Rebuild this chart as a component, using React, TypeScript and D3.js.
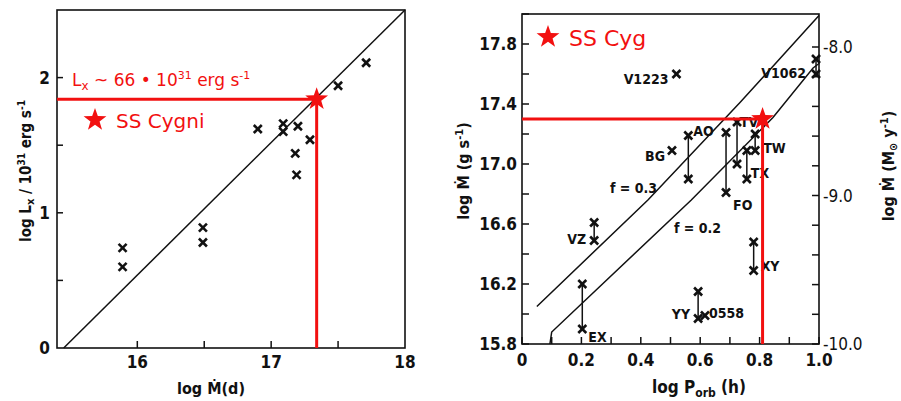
import React from 'react';
import * as d3 from 'd3';

// Left panel: X-ray luminosity vs accretion rate
const lxMdot = [15.89, 15.89, 16.49, 16.49, 16.9, 17.09, 17.09, 17.2, 17.29, 17.18, 17.19, 17.5, 17.71];
const lxValues = [0.74, 0.6, 0.89, 0.78, 1.62, 1.66, 1.6, 1.64, 1.54, 1.44, 1.28, 1.94, 2.11];
const lxLine = [[15.45, 0], [18, 2.5]];
const ssCygLeft = { mdot: 17.34, lx: 1.84 };

// Right panel: accretion rate vs orbital period
const sysNames = ['V1223', 'V1062', 'AO', 'BG', 'FO', 'TV', 'TX', 'TW', 'VZ', 'EX', 'YY', '0558', 'XY'];
const sysPorb = [0.52, 0.99, 0.56, 0.505, 0.687, 0.724, 0.757, 0.785, 0.243, 0.203, 0.593, 0.616, 0.78];
const sysHigh = [17.6, 17.7, 17.19, 17.09, 17.21, 17.28, 17.09, 17.2, 16.61, 16.2, 16.15, 15.99, 16.48];
const sysLow = [null, 17.6, 16.9, null, 16.81, 17.0, 16.9, 17.09, 16.49, 15.9, 15.97, null, 16.29];
const lineF03 = [[0.05, 16.05], [0.424, 16.76], [0.734, 17.41], [1.0, 17.99]];
const lineF02 = [[0.094, 15.8], [0.1, 15.88], [0.57, 16.76], [0.845, 17.31], [0.98, 17.64], [1.0, 17.67]];
const ssCygRight = { porb: 0.81, mdot: 17.3 };

const xTicksRight = [0, 0.1, 0.2, 0.3, 0.4, 0.5, 0.6, 0.7, 0.8, 0.9, 1.0];
const yTicksRight = d3.range(15.8, 18.01, 0.2);
const yTicksRight2 = d3.range(-10, -7.99, 0.2);

// label placement (px offsets from marker), kept apart from the data
const labelPos: Record<string, [number, number, 'start' | 'end', 'high' | 'low']> = {
  V1223: [-8, 5, 'end', 'high'],
  V1062: [-10, 14, 'end', 'high'],
  AO: [5, -5, 'start', 'high'],
  BG: [-7, 5, 'end', 'high'],
  FO: [7, 12, 'start', 'low'],
  TV: [3, 0, 'start', 'high'],
  TX: [4, -6, 'start', 'low'],
  TW: [8, -3, 'start', 'low'],
  VZ: [-8, -2, 'end', 'low'],
  EX: [6, 8, 'start', 'low'],
  YY: [-8, -5, 'end', 'low'],
  '0558': [4, -3, 'start', 'high'],
  XY: [7, -5, 'start', 'low'],
};

const RED = '#f21010';
const LBL = "'DejaVu Sans Condensed', 'DejaVu Sans', sans-serif";
const HAND = "'DejaVu Sans', sans-serif";

const Cross = ({ x, y }: { x: number; y: number }) => (
  <g stroke="#111" strokeWidth={2.6}>
    <line x1={x - 4} y1={y - 4} x2={x + 4} y2={y + 4} />
    <line x1={x - 4} y1={y + 4} x2={x + 4} y2={y - 4} />
  </g>
);

const starPath = (cx: number, cy: number, r: number) => {
  const pts: [number, number][] = [];
  for (let i = 0; i < 10; i++) {
    const rr = i % 2 === 0 ? r : r * 0.4;
    const a = -Math.PI / 2 + (i * Math.PI) / 5;
    pts.push([cx + rr * Math.cos(a), cy + rr * Math.sin(a)]);
  }
  return 'M' + pts.map((p) => p.join(',')).join('L') + 'Z';
};

export default function App() {
  // left panel scales
  const xL = d3.scaleLinear().domain([15.4, 18]).range([57, 405]);
  const yL = d3.scaleLinear().domain([0, 2.5]).range([348, 10]);
  // right panel scales
  const xR = d3.scaleLinear().domain([0, 1]).range([522, 819]);
  const yR = d3.scaleLinear().domain([15.8, 18]).range([344, 14]);
  const yR2 = d3.scaleLinear().domain([-10, -8]).range([344, 47]);

  const lineL = d3.line<number[]>().x((d) => xL(d[0])).y((d) => yL(d[1]));
  const lineR = d3.line<number[]>().x((d) => xR(d[0])).y((d) => yR(d[1]));

  const sx = xL(ssCygLeft.mdot);
  const sy = yL(ssCygLeft.lx);
  const rx = xR(ssCygRight.porb);
  const ry = yR(ssCygRight.mdot);

  return (
    <svg width={901} height={401} style={{ position: 'absolute', left: 0, top: 0, background: '#fff' }}>
      <rect width={901} height={401} fill="#fff" />

      {/* ---------- left panel ---------- */}
      <rect x={57} y={10} width={348} height={338} fill="none" stroke="#111" strokeWidth={1.6} />
      <path d={lineL(lxLine) || ''} fill="none" stroke="#111" strokeWidth={1.5} />
      {[16, 16.5, 17, 17.5].map((t) => (
        <line key={t} x1={xL(t)} x2={xL(t)} y1={348} y2={341} stroke="#111" strokeWidth={1.5} />
      ))}
      {[0.5, 1, 1.5, 2].map((t) => (
        <line key={t} x1={57} x2={63} y1={yL(t)} y2={yL(t)} stroke="#111" strokeWidth={1.5} />
      ))}
      {[16, 17, 18].map((t) => (
        <text key={t} x={xL(t)} y={368} textAnchor="middle" fontFamily={LBL} fontWeight="bold" fontSize={17} fill="#111">
          {t}
        </text>
      ))}
      {[0, 1, 2].map((t) => (
        <text key={t} x={50} y={yL(t) + 6} textAnchor="end" fontFamily={LBL} fontWeight="bold" fontSize={17} fill="#111">
          {t}
        </text>
      ))}
      <text x={211} y={394} textAnchor="middle" fontFamily={LBL} fontWeight="bold" fontSize={16} fill="#111">
        log Ṁ(d)
      </text>
      <text transform="translate(31,171) rotate(-90)" textAnchor="middle" fontFamily={LBL} fontWeight="bold" fontSize={15} fill="#111">
        log L<tspan fontSize={11} dy={3}>x</tspan>
        <tspan dy={-3}> / 10</tspan>
        <tspan fontSize={10} dy={-6}>31</tspan>
        <tspan dy={6}> erg s</tspan>
        <tspan fontSize={10} dy={-6}>-1</tspan>
      </text>
      {lxMdot.map((m, i) => (
        <Cross key={i} x={xL(m)} y={yL(lxValues[i])} />
      ))}
      <line x1={57} x2={sx} y1={sy} y2={sy} stroke={RED} strokeWidth={3} />
      <line x1={sx} x2={sx} y1={sy} y2={348} stroke={RED} strokeWidth={3} />
      <path d={starPath(sx, sy, 12)} fill={RED} />
      <text x={72} y={86} fontFamily={HAND} fontSize={17} fill={RED}>
        L<tspan fontSize={12} dy={4}>x</tspan>
        <tspan dy={-4}> ~ 66 • 10</tspan>
        <tspan fontSize={11} dy={-7}>31</tspan>
        <tspan dy={7}> erg s</tspan>
        <tspan fontSize={11} dy={-7}>-1</tspan>
      </text>
      <path d={starPath(95, 120, 12)} fill={RED} />
      <text x={116} y={128} fontFamily={HAND} fontSize={20} fill={RED}>
        SS Cygni
      </text>

      {/* ---------- right panel ---------- */}
      <rect x={522} y={14} width={297} height={330} fill="none" stroke="#111" strokeWidth={1.6} />
      {xTicksRight.map((t) => (
        <line key={t} x1={xR(t)} x2={xR(t)} y1={344} y2={337} stroke="#111" strokeWidth={1.5} />
      ))}
      {yTicksRight.map((t) => (
        <line key={t} x1={522} x2={529} y1={yR(t)} y2={yR(t)} stroke="#111" strokeWidth={1.5} />
      ))}
      {yTicksRight2.map((t) => (
        <line key={t} x1={812} x2={819} y1={yR2(t)} y2={yR2(t)} stroke="#111" strokeWidth={1.5} />
      ))}
      {[0, 0.2, 0.4, 0.6, 0.8, 1.0].map((t) => (
        <text key={t} x={xR(t)} y={366} textAnchor="middle" fontFamily={LBL} fontWeight="bold" fontSize={17} fill="#111">
          {t === 0 ? '0' : t.toFixed(1)}
        </text>
      ))}
      {[15.8, 16.2, 16.6, 17.0, 17.4, 17.8].map((t) => (
        <text key={t} x={517} y={yR(t) + 6} textAnchor="end" fontFamily={LBL} fontWeight="bold" fontSize={17} fill="#111">
          {t.toFixed(1)}
        </text>
      ))}
      {[-8, -9, -10].map((t) => (
        <text key={t} x={823} y={yR2(t) + 6} fontFamily={LBL} fontSize={17} fill="#111">
          {'-' + Math.abs(t).toFixed(1)}
        </text>
      ))}
      <text x={699} y={393} textAnchor="middle" fontFamily={LBL} fontWeight="bold" fontSize={17} fill="#111">
        log P<tspan fontSize={12} dy={4}>orb</tspan>
        <tspan dy={-4}> (h)</tspan>
      </text>
      <text transform="translate(469,171) rotate(-90)" textAnchor="middle" fontFamily={LBL} fontWeight="bold" fontSize={16} fill="#111">
        log Ṁ (g s<tspan fontSize={11} dy={-6}>-1</tspan>
        <tspan dy={6}>)</tspan>
      </text>
      <text transform="translate(894,166) rotate(-90)" textAnchor="middle" fontFamily={LBL} fontWeight="bold" fontSize={16} fill="#111">
        log Ṁ (M<tspan fontSize={11} dy={3}>⊙</tspan>
        <tspan dy={-3}> y</tspan>
        <tspan fontSize={11} dy={-6}>-1</tspan>
        <tspan dy={6}>)</tspan>
      </text>

      <path d={lineR(lineF03) || ''} fill="none" stroke="#111" strokeWidth={1.5} />
      <path d={lineR(lineF02) || ''} fill="none" stroke="#111" strokeWidth={1.5} />
      <text x={610} y={193} fontFamily={LBL} fontWeight="bold" fontSize={14} fill="#111">
        f = 0.3
      </text>
      <text x={674} y={233} fontFamily={LBL} fontWeight="bold" fontSize={14} fill="#111">
        f = 0.2
      </text>

      {sysNames.map((name, i) => {
        const x = xR(sysPorb[i]);
        const yh = yR(sysHigh[i]);
        const lo = sysLow[i];
        const yl = lo == null ? yh : yR(lo);
        const [dx, dy, anchor, ref] = labelPos[name];
        const ly = ref === 'low' ? yl : yh;
        return (
          <g key={name}>
            {lo != null && <line x1={x} x2={x} y1={yh} y2={yl} stroke="#111" strokeWidth={1.5} />}
            <Cross x={x} y={yh} />
            {lo != null && <Cross x={x} y={yl} />}
            <text x={x + dx} y={ly + dy + 5} textAnchor={anchor} fontFamily={LBL} fontWeight="bold" fontSize={14} fill="#111">
              {name}
            </text>
          </g>
        );
      })}

      <line x1={522} x2={rx} y1={ry} y2={ry} stroke={RED} strokeWidth={3} />
      <line x1={rx} x2={rx} y1={ry} y2={344} stroke={RED} strokeWidth={3} />
      <path d={starPath(rx, ry, 12)} fill={RED} />
      <path d={starPath(548, 37, 12)} fill={RED} />
      <text x={569} y={46} fontFamily={HAND} fontSize={22} fill={RED}>
        SS Cyg
      </text>
    </svg>
  );
}
